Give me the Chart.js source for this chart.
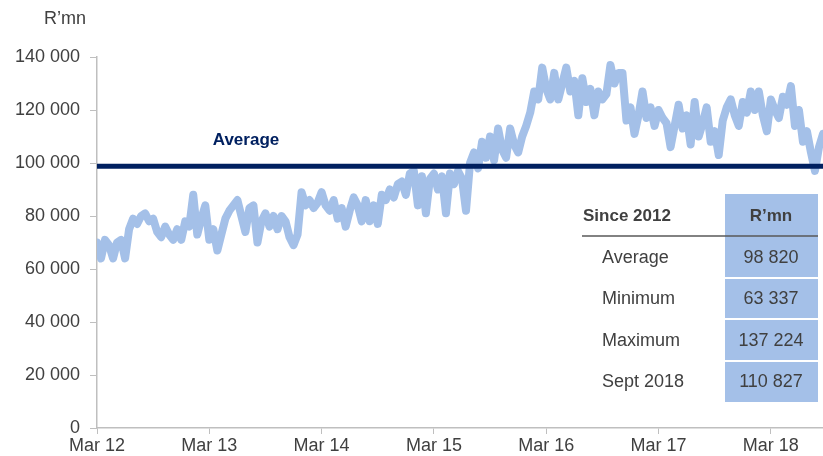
<!DOCTYPE html>
<html>
<head>
<meta charset="utf-8">
<script src="https://cdn.jsdelivr.net/npm/chart.js@4.4.1/dist/chart.umd.min.js"></script>
<style>
  html, body { margin: 0; padding: 0; background: #fff; }
  #wrap { width: 823px; height: 456px; }
</style>
</head>
<body>
<div id="wrap"><canvas id="chart" width="823" height="456"></canvas></div>
<script>
// tick labels
const xTickLabels = ['Mar 12', 'Mar 13', 'Mar 14', 'Mar 15', 'Mar 16', 'Mar 17', 'Mar 18'];
const yTickLabels = ['0', '20 000', '40 000', '60 000', '80 000', '100 000', '120 000', '140 000'];

// reserves, R'mn in thousands, one reading roughly every 13 days from Mar 2012
const stepYears = 1 / 28;
const reserves = [
  70, 64, 71, 69, 64, 70, 71, 64, 75, 79,
  77, 80, 81, 78, 79, 74, 72, 76, 73, 71,
  75, 71, 78, 76, 88, 73, 79, 84, 71, 75,
  67, 73, 79, 82, 84, 86, 80, 74, 83, 84,
  70, 78, 81, 76, 80, 75, 80, 78, 72, 69,
  73, 89, 84, 86, 83, 85, 89, 84, 82, 86,
  79, 83, 76, 82, 87, 84, 78, 86, 78, 84,
  77, 88, 86, 90, 87, 92, 93, 88, 96, 97,
  84, 95, 81, 94, 96, 90, 95, 81, 96, 92,
  97, 94, 82, 100, 104, 98, 108, 102, 110, 101,
  113, 105, 102, 113, 107, 104, 110, 114, 119, 127,
  124, 136, 128, 124, 134, 124, 130, 136, 127, 131,
  118, 132, 123, 128, 118, 127, 124, 126, 137, 130,
  134, 134, 116, 121, 111, 118, 127, 117, 121, 114,
  120, 117, 115, 106, 114, 122, 113, 118, 107, 123,
  110, 115, 121, 108, 112, 103, 116, 121, 124, 118,
  114, 123, 119, 127, 120, 127, 118, 112, 124, 120,
  117, 125, 122, 129, 114, 120, 108, 112, 104, 97,
  106, 111
];
const average = 98.82;

// table
const tableTitle = 'Since 2012';
const tableUnit = 'R’mn';
const tableRows = ['Average', 'Minimum', 'Maximum', 'Sept 2018'];
const tableValues = ['98 820', '63 337', '137 224', '110 827'];

const FONT = '"Liberation Sans", Arial, sans-serif';
const TEXT = '#404040';
const BLUE = '#a4c0e8';
const NAVY = '#002060';
const AXIS = '#bfbfbf';

const xMax = (reserves.length - 1) * stepYears;

const overlay = {
  id: 'overlay',
  afterDraw(chart) {
    const ctx = chart.ctx;
    ctx.save();
    ctx.textBaseline = 'middle';

    // unit label
    ctx.font = '18px ' + FONT;
    ctx.fillStyle = TEXT;
    ctx.textAlign = 'center';
    ctx.fillText('R’mn', 65, 19);

    // average label
    ctx.font = 'bold 17px ' + FONT;
    ctx.fillStyle = NAVY;
    ctx.fillText('Average', 246, 140);

    // table cells
    const cellX = 725, cellW = 93;
    const cells = [[194, 277], [279, 318], [320, 360], [362, 402]];
    ctx.fillStyle = BLUE;
    cells.forEach(c => ctx.fillRect(cellX, c[0], cellW, c[1] - c[0]));

    ctx.strokeStyle = '#595959';
    ctx.lineWidth = 1.5;
    ctx.beginPath();
    ctx.moveTo(582, 236);
    ctx.lineTo(818, 236);
    ctx.stroke();

    ctx.font = 'bold 17px ' + FONT;
    ctx.fillStyle = TEXT;
    ctx.textAlign = 'left';
    ctx.fillText(tableTitle, 583, 216);
    ctx.textAlign = 'center';
    ctx.fillText(tableUnit, 771, 216);

    ctx.font = '18px ' + FONT;
    const rowY = [258, 299, 341, 382];
    tableRows.forEach((r, i) => {
      ctx.textAlign = 'left';
      ctx.fillText(r, 602, rowY[i]);
      ctx.textAlign = 'center';
      ctx.fillText(tableValues[i], 771, rowY[i]);
    });
    ctx.restore();
  }
};

new Chart(document.getElementById('chart'), {
  type: 'line',
  data: {
    datasets: [{
      label: 'Average',
      data: [{ x: 0, y: average }, { x: xMax, y: average }],
      borderColor: NAVY,
      borderWidth: 5,
      pointRadius: 0,
      order: 0
    }, {
      label: 'Reserves',
      data: reserves.map((v, i) => ({ x: i * stepYears, y: v })),
      borderColor: BLUE,
      borderWidth: 8,
      pointRadius: 0,
      tension: 0,
      borderJoinStyle: 'round',
      borderCapStyle: 'round',
      order: 1
    }]
  },
  options: {
    responsive: false,
    animation: false,
    layout: { padding: { top: 57, right: 0, bottom: 0, left: 0 } },
    plugins: { legend: { display: false }, tooltip: { enabled: false } },
    scales: {
      x: {
        type: 'linear',
        min: 0,
        max: xMax,
        afterBuildTicks: s => { s.ticks = xTickLabels.map((_, i) => ({ value: i })); },
        afterFit: s => { s.height = 28; },
        ticks: {
          callback: (v, i) => xTickLabels[i],
          color: TEXT,
          font: { family: FONT, size: 18 },
          padding: 1,
          maxRotation: 0,
          autoSkip: false
        },
        grid: { drawOnChartArea: false, drawTicks: true, tickLength: 6, color: AXIS },
        border: { color: AXIS, width: 1.5 }
      },
      y: {
        min: 0,
        max: 140,
        afterBuildTicks: s => { s.ticks = yTickLabels.map((_, i) => ({ value: i * 20 })); },
        afterFit: s => { s.width = 97; },
        ticks: {
          callback: (v, i) => yTickLabels[i],
          color: TEXT,
          font: { family: FONT, size: 18 },
          padding: 10
        },
        grid: { drawOnChartArea: false, drawTicks: true, tickLength: 7, color: AXIS },
        border: { color: AXIS, width: 1.5 }
      }
    }
  },
  plugins: [overlay]
});
</script>
</body>
</html>
